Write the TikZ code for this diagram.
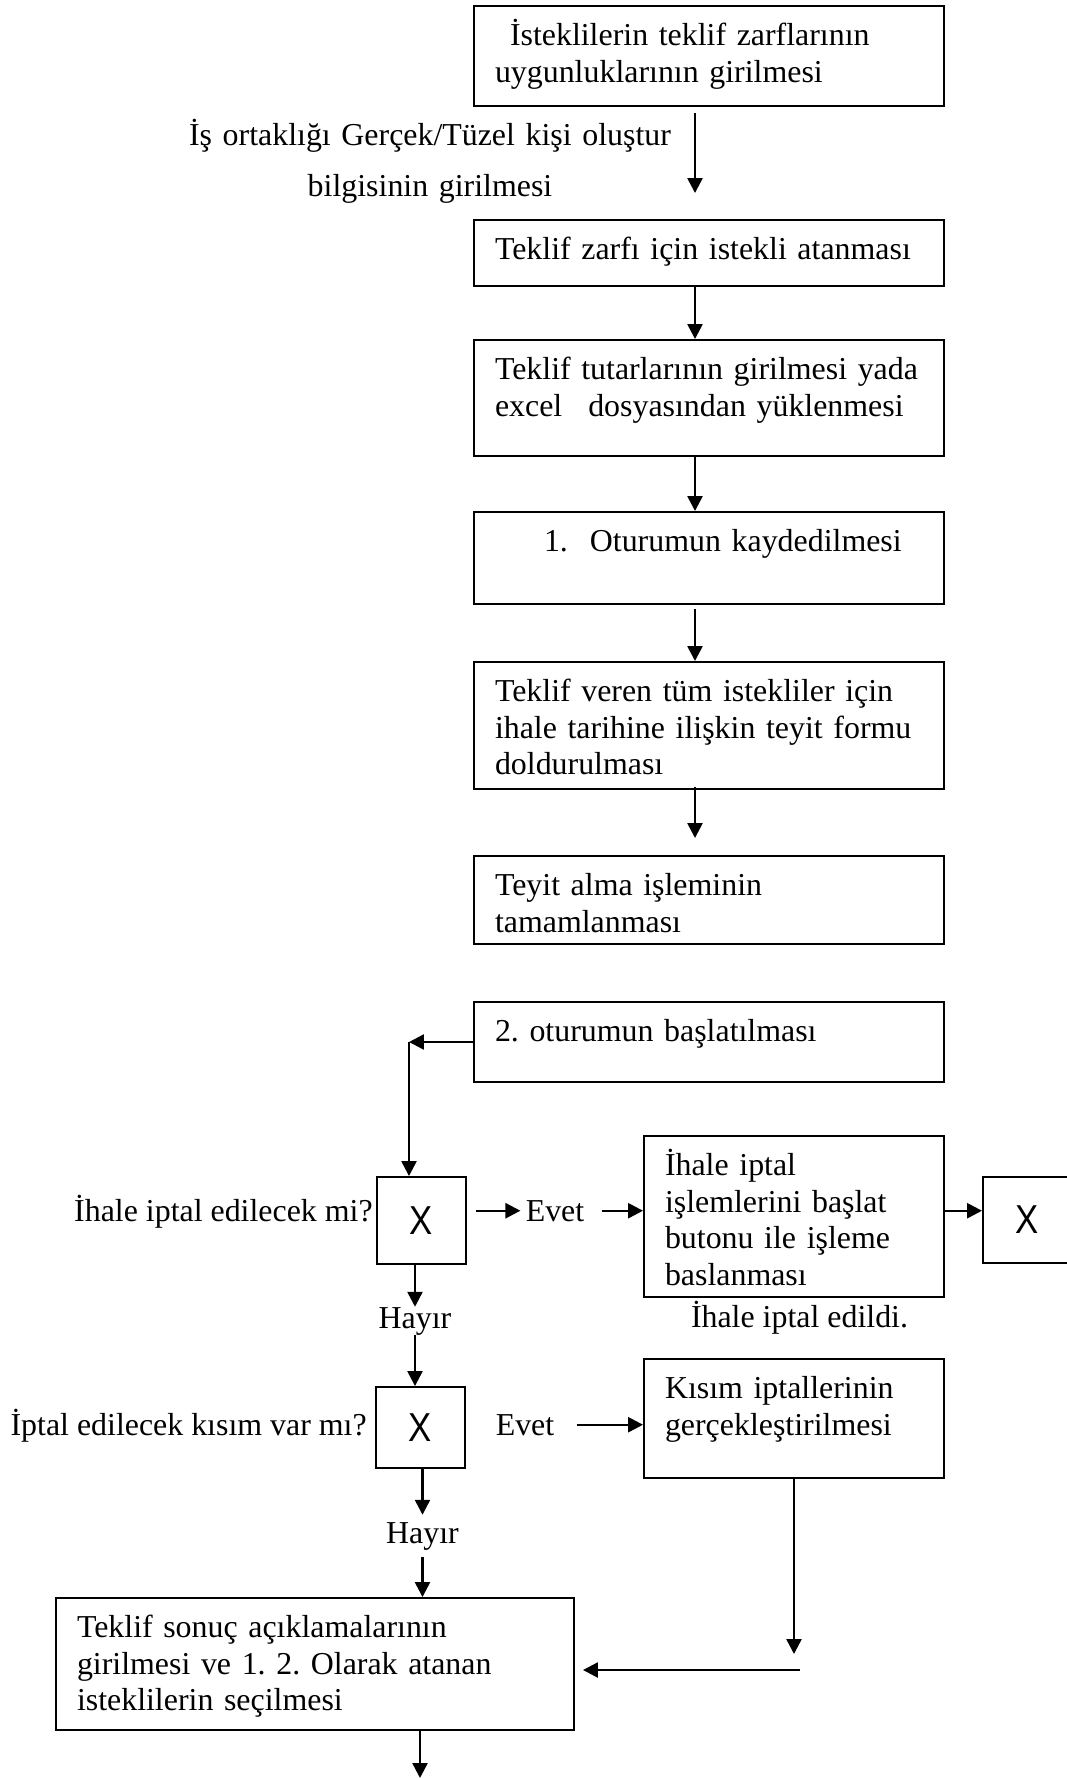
\documentclass[tikz,border=0pt]{standalone}
\usepackage{fontspec}
\setmainfont{Liberation Serif}
\newfontfamily\xfont[FakeStretch=0.86]{Liberation Sans}
\usetikzlibrary{arrows.meta}
\frenchspacing

\begin{document}
\begin{tikzpicture}[
    font=\fontsize{18.15pt}{20.8pt}\selectfont,
    proc/.style={draw, line width=1.1pt, align=left, inner xsep=0.42cm, inner ysep=0pt, text height=0.79cm},
    decide/.style={draw, line width=1.1pt, minimum width=1.78cm, inner sep=0pt, font=\xfont\fontsize{23pt}{25pt}\selectfont},
    lbl/.style={inner sep=0pt},
    arr/.style={line width=1.4pt, -{Triangle[length=8.5pt,width=8.5pt]}}
]
    \useasboundingbox (0,0) rectangle (21.34,-35.56);

    % First session
    \node[proc, text width=8.56cm, text depth=1.21cm] (b1) at (14.18,-1.12) {\hspace*{0.3cm}İsteklilerin teklif zarflarının\\uygunluklarının girilmesi};
    \node[lbl, text width=10cm, align=center, anchor=base] (ortak) at (8.6,-2.90) {İş ortaklığı Gerçek/Tüzel kişi oluştur\\[8.7pt]bilgisinin girilmesi};
    \node[proc, text width=8.56cm, text depth=0.53cm] (b2) at (14.18,-5.06) {Teklif zarfı için istekli atanması};
    \node[proc, text width=8.56cm, text depth=1.53cm] (b3) at (14.18,-7.96) {Teklif tutarlarının girilmesi yada\\excel\hspace{0.52cm}dosyasından yüklenmesi};
    \node[proc, text width=8.56cm, text depth=1.05cm] (b4) at (14.18,-11.16) {\hspace*{0.98cm}1.\hspace{0.44cm}Oturumun kaydedilmesi};
    \node[proc, text width=8.56cm, text depth=1.75cm] (b5) at (14.18,-14.51) {Teklif veren tüm istekliler için\\ihale tarihine ilişkin teyit formu\\doldurulması};
    \node[proc, text width=8.56cm, text depth=0.97cm] (b6) at (14.18,-18.00) {Teyit alma işleminin\\tamamlanması};

    \draw[arr, shorten <=0.12cm, shorten >=0.52cm] ([xshift=-0.28cm]b1.south) -- ([xshift=-0.28cm]b2.north);
    \draw[arr] ([xshift=-0.28cm]b2.south) -- ([xshift=-0.28cm]b3.north);
    \draw[arr] ([xshift=-0.28cm]b3.south) -- ([xshift=-0.28cm]b4.north);
    \draw[arr, shorten <=0.08cm] ([xshift=-0.28cm]b4.south) -- ([xshift=-0.28cm]b5.north);
    \draw[arr, shorten <=-0.06cm, shorten >=0.34cm] ([xshift=-0.28cm]b5.south) -- ([xshift=-0.28cm]b6.north);

    % Second session
    \node[proc, text width=8.56cm, text depth=0.81cm] (b7) at (14.18,-20.84) {2. oturumun başlatılması};
    \node[decide, minimum height=1.74cm] (x1) at (8.43,-24.41) {X};
    \node[lbl, anchor=base east] (soru1) at (7.46,-24.42) {İhale iptal edilecek mi?};
    \node[lbl, anchor=base] (evet1) at (11.10,-24.42) {Evet};
    \node[proc, text width=5.16cm, text depth=2.43cm] (b8) at (15.88,-24.33) {İhale iptal\\işlemlerini başlat\\butonu ile işleme\\baslanması};
    \node[decide, minimum height=1.72cm] (x2) at (20.55,-24.40) {X};
    \node[lbl, anchor=base] (iptal) at (15.99,-26.54) {İhale iptal edildi.};
    \node[lbl, anchor=base] (hayir1) at (8.30,-26.56) {Hayır};

    \node[decide, minimum height=1.62cm] (x3) at (8.41,-28.55) {X};
    \node[lbl, anchor=base east] (soru2) at (7.34,-28.70) {İptal edilecek kısım var mı?};
    \node[lbl, anchor=base] (evet2) at (10.50,-28.70) {Evet};
    \node[proc, text width=5.16cm, text depth=1.59cm] (b9) at (15.88,-28.37) {Kısım iptallerinin\\gerçekleştirilmesi};
    \node[lbl, anchor=base] (hayir2) at (8.45,-30.86) {Hayır};
    \node[proc, text width=9.52cm, text depth=1.85cm] (b10) at (6.30,-33.28) {Teklif sonuç açıklamalarının\\girilmesi ve 1. 2. Olarak atanan\\isteklilerin seçilmesi};

    \coordinate (bend) at (8.18,-20.84);
    \coordinate (k1) at (15.88,-33.08);
    \coordinate (k2) at (16.0,-33.4);
    \coordinate (fin) at (8.4,-35.56);

    \draw[arr] (b7.west) -- (bend);
    \draw[arr] (bend) -- (bend |- x1.north);
    \draw[arr, shorten <=0.18cm, shorten >=0.1cm] (x1.east |- evet1) -- (evet1);
    \draw[arr, shorten <=0.34cm] (evet1) -- (evet1 -| b8.west);
    \draw[arr] (evet1 -| b8.east) -- (evet1 -| x2.west);
    \draw[arr] (hayir1 |- x1.south) -- (hayir1);
    \draw[arr] (hayir1) -- (hayir1 |- x3.north);
    \draw[arr, shorten <=0.44cm] (evet2) -- (evet2 -| b9.west);
    \draw[arr, shorten >=0.14cm] (hayir2 |- x3.south) -- (hayir2);
    \draw[arr, shorten <=0.14cm] (hayir2) -- (hayir2 |- b10.north);
    \draw[arr] (b9.south) -- (k1);
    \draw[arr, shorten >=0.16cm] (k2) -- (k2 -| b10.east);
    \draw[arr] (b10.south -| fin) -- (fin);
\end{tikzpicture}
\end{document}
